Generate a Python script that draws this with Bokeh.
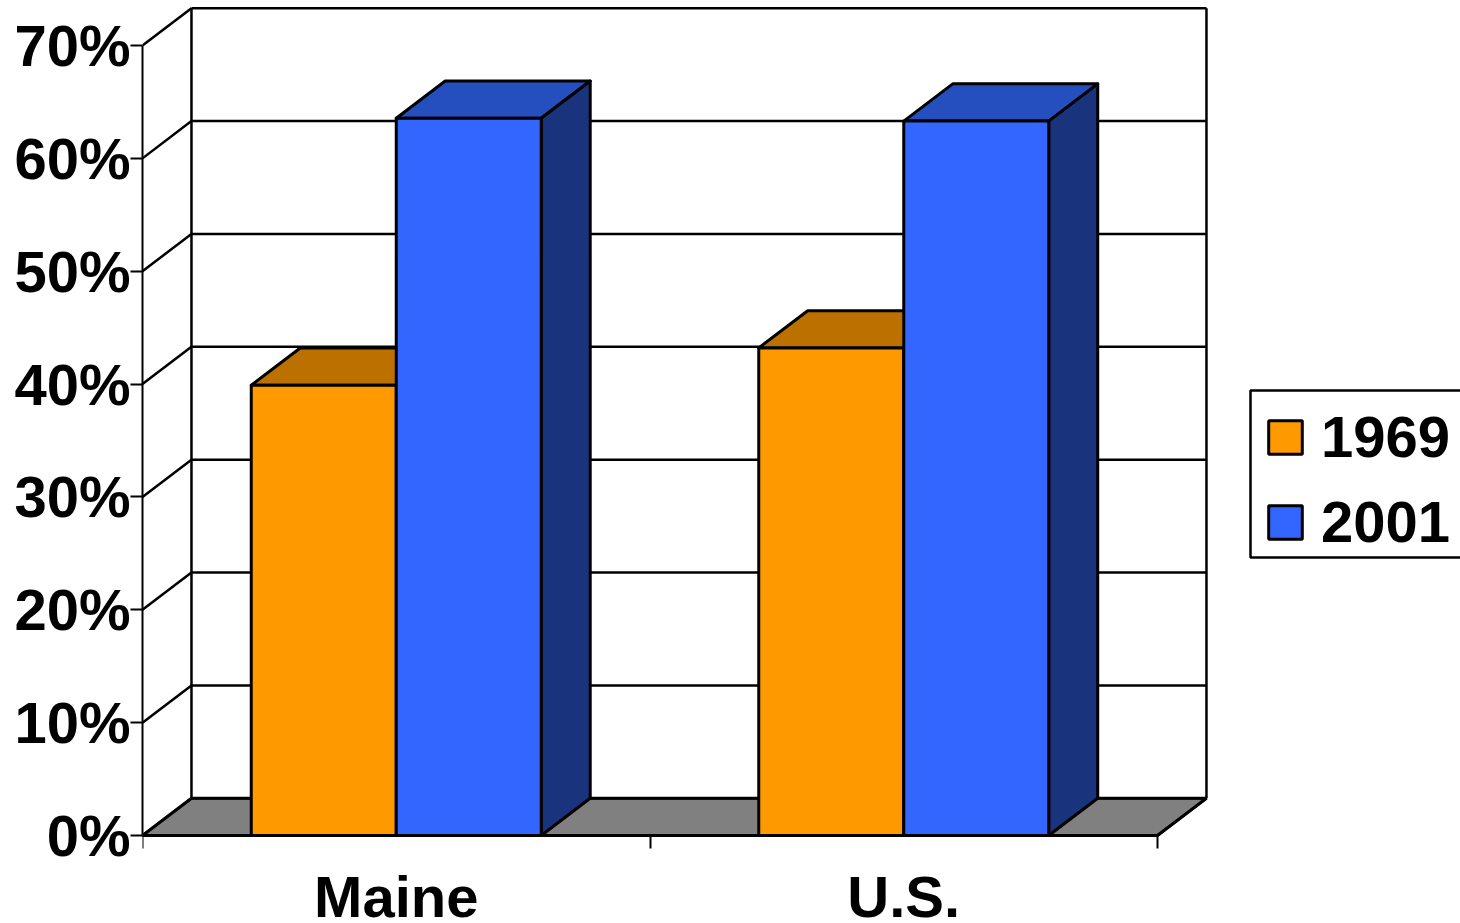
from bokeh.plotting import figure
from bokeh.models import Range1d, FixedTicker, Legend, LegendItem, BoxAnnotation
from bokeh.embed import file_html
from bokeh.resources import INLINE

# ---- data ----
categories = ["Maine", "U.S."]
series_names = ["1969", "2001"]
values_1969 = [39.9, 43.2]
values_2001 = [63.55, 63.3]
y_ticks = [0, 10, 20, 30, 40, 50, 60, 70]
y_labels = ["0%", "10%", "20%", "30%", "40%", "50%", "60%", "70%"]

# ---- style ----
FONT = "Liberation Sans"
SIZE = "58px"
FRONT = ["#FF9900", "#3366FF"]
TOP = ["#BB7000", "#254FBF"]
SIDE = ["#8A5300", "#1A337D"]
FLOOR = "#808080"
BAR_W = 0.2857
DX, DY = 0.0965, 3.3   # depth of the pseudo-3D box, in data units
N = len(categories)

W, H = 1460, 923
BL, BELOW = 142, 88     # left border; room under the zero line
p = figure(width=W, height=H, output_backend="svg", toolbar_location=None,
           x_axis_type="linear", y_axis_type="linear",
           x_range=Range1d(0, (W - BL) / 507.5),
           y_range=Range1d(-BELOW / 11.286, (H - BELOW) / 11.286),
           min_border_left=BL, min_border_bottom=0, min_border_top=0, min_border_right=0,
           outline_line_color=None, border_fill_color="white", background_fill_color="white")
p.grid.visible = False

# ---- axes ----
ya = p.yaxis[0]
ya.ticker = FixedTicker(ticks=y_ticks)
ya.major_label_overrides = {t: l for t, l in zip(y_ticks, y_labels)}
ya.bounds = (y_ticks[0], y_ticks[-1])
ya.major_tick_out = 12
ya.major_tick_in = 0
ya.minor_tick_out = 0
ya.minor_tick_in = 0
ya.major_label_standoff = 0
ya.major_label_text_font = FONT
ya.major_label_text_font_style = "bold"
ya.major_label_text_font_size = SIZE
ya.major_label_text_color = "black"
ya.axis_line_color = "black"
ya.axis_line_width = 2
ya.major_tick_line_width = 2

xa = p.xaxis[0]
xa.fixed_location = 0
xa.ticker = FixedTicker(ticks=[i + 0.5 for i in range(N)], minor_ticks=list(range(N + 1)))
xa.major_label_overrides = {i + 0.5: c for i, c in enumerate(categories)}
xa.bounds = (0, N)
xa.major_tick_out = 0
xa.major_tick_in = 0
xa.minor_tick_out = 13
xa.minor_tick_in = 0
xa.major_label_standoff = 15
xa.major_label_text_font = FONT
xa.major_label_text_font_style = "bold"
xa.major_label_text_font_size = SIZE
xa.major_label_text_color = "black"
xa.major_label_text_line_height = 1.0
xa.axis_line_color = "black"
xa.axis_line_width = 3
xa.minor_tick_line_width = 2

# ---- box: walls and floor ----
top_v = y_ticks[-1]
p.patch([0, N, N + DX, DX], [0, 0, DY, DY], fill_color=FLOOR, line_color="black", line_width=3)
p.segment([0] * len(y_ticks), y_ticks, [DX] * len(y_ticks), [t + DY for t in y_ticks],
          line_color="black", line_width=2.5)
p.segment([DX] * len(y_ticks), [t + DY for t in y_ticks], [N + DX] * len(y_ticks),
          [t + DY for t in y_ticks], line_color="black", line_width=2.5)
p.segment([DX, N + DX, N], [DY, DY, 0], [DX, N + DX, N + DX], [top_v + DY, top_v + DY, DY],
          line_color="black", line_width=2.5)

# ---- bars ----
legend_items = []
for s, vals in enumerate([values_1969, values_2001]):
    x0 = [i + 0.5 + (s - 1) * BAR_W for i in range(N)]
    x1 = [a + BAR_W for a in x0]
    p.patches([[a, b, b + DX, a + DX] for a, b in zip(x0, x1)],
              [[v, v, v + DY, v + DY] for v in vals],
              fill_color=TOP[s], line_color="black", line_width=3, line_join="round")
    p.patches([[b, b + DX, b + DX, b] for b in x1],
              [[0, DY, v + DY, v] for v in vals],
              fill_color=SIDE[s], line_color="black", line_width=3, line_join="round")
    r = p.quad(left=x0, right=x1, bottom=[0] * N, top=vals,
               fill_color=FRONT[s], line_color="black", line_width=3)
    legend_items.append(LegendItem(label=series_names[s], renderers=[r]))

# ---- legend ----
p.add_layout(BoxAnnotation(left=1250, right=W + 5, top=390, bottom=557,
                           left_units="canvas", right_units="canvas",
                           top_units="canvas", bottom_units="canvas",
                           fill_alpha=0, line_color="black", line_width=2.5, line_alpha=1))
legend = Legend(items=legend_items, location=(1122, 368), orientation="vertical",
                margin=0, padding=14, spacing=18,
                glyph_width=42, glyph_height=42, label_height=60, label_standoff=15,
                label_text_font=FONT, label_text_font_style="bold", label_text_font_size=SIZE,
                label_text_color="black", border_line_color=None,
                background_fill_alpha=0)
p.add_layout(legend, "center")

open("out.html", "w").write(file_html(p, INLINE))
